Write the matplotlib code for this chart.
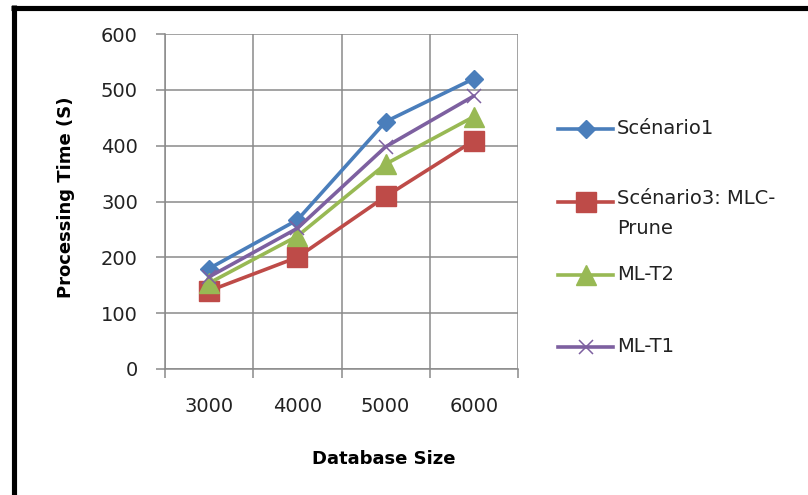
import matplotlib
matplotlib.use("Agg")
import matplotlib.pyplot as plt
from matplotlib.lines import Line2D

categories = ["3000", "4000", "5000", "6000"]
scenario1 = [180, 267, 443, 520]
scenario3 = [140, 200, 309, 409]
ml_t2 = [154, 238, 367, 452]
ml_t1 = [165, 252, 398, 489]
y_ticks = [0, 100, 200, 300, 400, 500, 600]
labels = ["Scénario1", "Scénario3: MLC-\nPrune", "ML-T2", "ML-T1"]

styles = [
    ("#4A7EBB", "D", 9),
    ("#BE4B48", "s", 14),
    ("#98B954", "^", 14),
    ("#7D60A0", "x", 10),
]
data = [scenario1, scenario3, ml_t2, ml_t1]

W, H = 808, 495
fig = plt.figure(figsize=(W / 100, H / 100), dpi=100)
fig.patch.set_facecolor("white")

ax = fig.add_axes([165 / W, 1 - 369 / H, 353 / W, 335 / H])
x = list(range(len(categories)))
grid_c = "#8a8a8a"
txt_c = "#222222"

for vals, (color, marker, ms) in zip(data, styles):
    ax.plot(x, vals, color=color, lw=2.6, marker=marker, markersize=ms,
            markeredgewidth=(1.1 if marker == "x" else 1.0),
            markeredgecolor=color, markerfacecolor=color, zorder=3,
            solid_capstyle="round", clip_on=False)

ax.set_xlim(-0.5, len(categories) - 0.5)
ax.set_ylim(0, 600)
ax.set_yticks(y_ticks)
ax.set_xticks(x)
ax.set_xticklabels(categories)
ax.set_xticks([i - 0.5 for i in range(len(categories) + 1)], minor=True)

ax.tick_params(axis="x", which="major", length=0, pad=20, labelsize=14,
               labelcolor=txt_c)
ax.tick_params(axis="x", which="minor", length=6.5, width=1.1, color=grid_c,
               direction="out")
ax.tick_params(axis="y", which="major", length=6.5, width=1.1, color=grid_c,
               direction="out", pad=13, labelsize=14, labelcolor=txt_c)

ax.grid(True, axis="y", which="major", color=grid_c, lw=1.1)
ax.grid(True, axis="x", which="minor", color=grid_c, lw=1.1)
ax.set_axisbelow(True)
for s in ["top", "right"]:
    ax.spines[s].set_visible(False)
for s in ["left", "bottom"]:
    ax.spines[s].set_color(grid_c)
    ax.spines[s].set_linewidth(1.1)

fig.text(66 / W, 1 - 197 / H, "Processing Time (S)", rotation=90,
         ha="center", va="center", fontsize=13, fontweight="bold", color="black")
fig.text(384 / W, 1 - 459 / H, "Database Size", ha="center", va="center",
         fontsize=13, fontweight="bold", color="black")

# manual legend (handle aligned with first text line, Excel style)
legend_y = [129, 202, 275, 347]
for label, (color, marker, ms), ly in zip(labels, styles, legend_y):
    fy = 1 - ly / H
    fig.add_artist(Line2D([558 / W, 613 / W], [fy, fy], color=color, lw=2.6,
                          transform=fig.transFigure))
    fig.add_artist(Line2D([585.5 / W], [fy], color=color, marker=marker,
                          markersize=ms,
                          markeredgewidth=(1.1 if marker == "x" else 1.0),
                          markeredgecolor=color, markerfacecolor=color,
                          transform=fig.transFigure))
    if "\n" in label:
        fig.text(617 / W, 1 - (ly - 13) / H, label, ha="left", va="top",
                 fontsize=14, color=txt_c, linespacing=1.75)
    else:
        fig.text(617 / W, fy, label, ha="left", va="center",
                 fontsize=14, color=txt_c)

# outer frame (left and top thick black edges)
fig.add_artist(Line2D([13.5 / W, 13.5 / W], [0, 1 - 5 / H], color="black", lw=3.7,
                      transform=fig.transFigure, solid_capstyle="butt"))
fig.add_artist(Line2D([11 / W, 1], [1 - 7.5 / H, 1 - 7.5 / H], color="black", lw=3.7,
                      transform=fig.transFigure, solid_capstyle="butt"))

fig.savefig("out.png", dpi=100, facecolor="white")
